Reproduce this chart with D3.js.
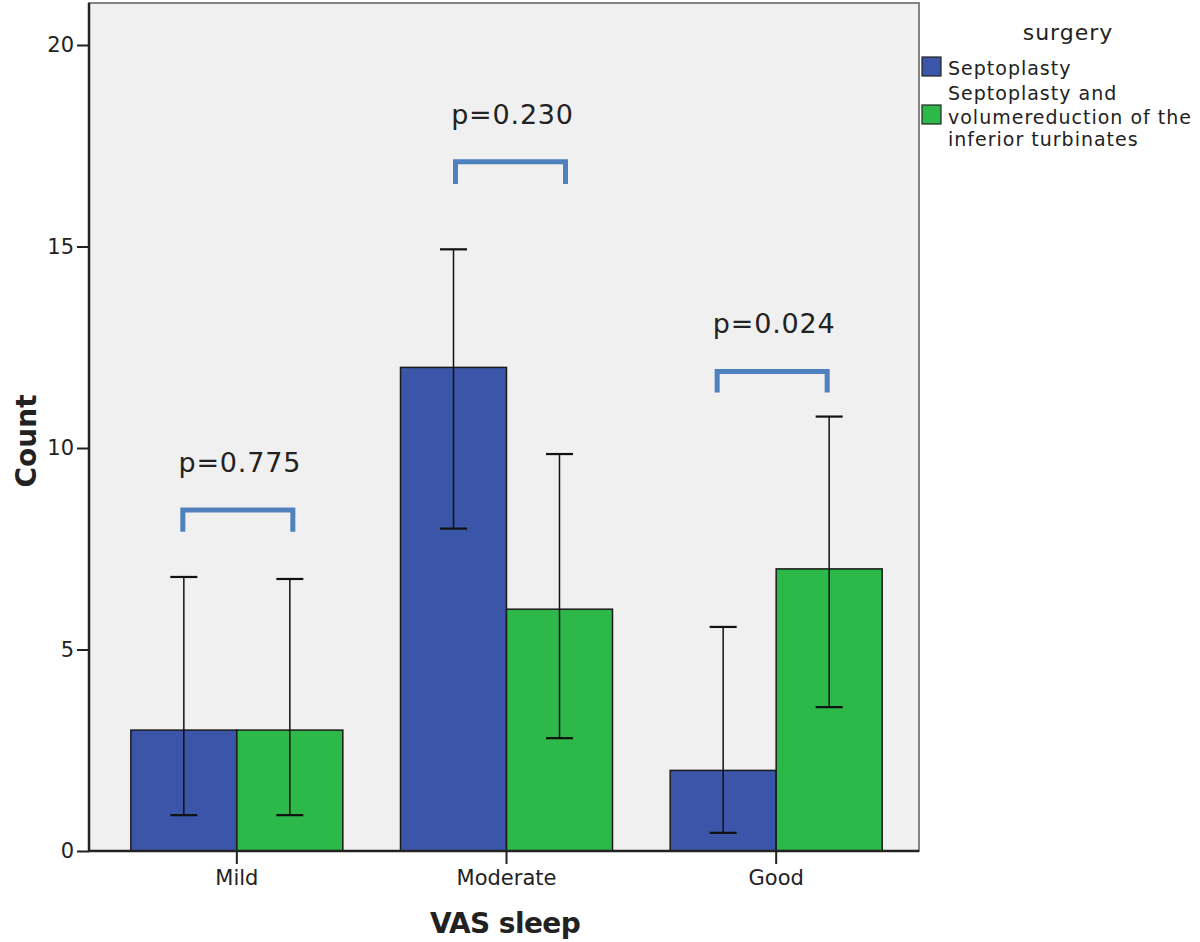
<!DOCTYPE html>
<html><head><meta charset="utf-8">
<script src="https://cdn.jsdelivr.net/npm/d3@7"></script>
<style>body{margin:0;background:#fff;} svg{display:block;font-family:"DejaVu Sans",sans-serif;}</style>
</head><body><svg id="c" width="1200" height="942"></svg>
<script>
const categories = ["Mild", "Moderate", "Good"];
const series = ["Septoplasty", "Septoplasty and volumereduction of the inferior turbinates"];
const legendLines = [["Septoplasty"], ["Septoplasty and", "volumereduction of the", "inferior turbinates"]];
const septoplasty = [3, 12, 2];
const septoTurbinates = [3, 6, 7];
const septoplastyLow = [0.89, 8.0, 0.45];
const septoplastyHigh = [6.8, 14.93, 5.56];
const septoTurbinatesLow = [0.89, 2.8, 3.57];
const septoTurbinatesHigh = [6.75, 9.85, 10.78];
const pLabels = ["p=0.775", "p=0.230", "p=0.024"];
const bracketTop = [8.46, 17.1, 11.9];
const bracketBottom = [7.92, 16.55, 11.38];
const yTicks = [0, 5, 10, 15, 20];
const colors = ["#3b56a9", "#2db84a"];

const svg = d3.select("#c");
const L = 89, R = 919, T = 3, B = 851;
const y = d3.scaleLinear().domain([0, 20]).range([B, 45]);
const x0 = d3.scaleBand().domain(categories).range([102, 911]);
const x1 = d3.scaleBand().domain(series).range([-106, 106]);
const xc = c => x0(c) + x0.bandwidth() / 2;

// plot background + frame
svg.append("rect").attr("x", L).attr("y", T).attr("width", R - L).attr("height", B - T)
  .attr("fill", "#f0f0f0").attr("stroke", "#848484").attr("stroke-width", 2);

const vals = [septoplasty, septoTurbinates];
const lows = [septoplastyLow, septoTurbinatesLow];
const highs = [septoplastyHigh, septoTurbinatesHigh];
const data = [];
categories.forEach((c, i) => series.forEach((s, j) => data.push({c, s, j, v: vals[j][i], lo: lows[j][i], hi: highs[j][i]})));

svg.append("g").selectAll("rect").data(data).join("rect")
  .attr("x", d => xc(d.c) + x1(d.s)).attr("width", x1.bandwidth())
  .attr("y", d => y(d.v)).attr("height", d => y(0) - y(d.v))
  .attr("fill", d => colors[d.j]).attr("stroke", "#1a1a1a").attr("stroke-width", 1.5);

// error bars
const eb = svg.append("g").attr("stroke", "#111");
data.forEach(d => {
  const cx = xc(d.c) + x1(d.s) + x1.bandwidth() / 2;
  eb.append("line").attr("x1", cx).attr("x2", cx).attr("y1", y(d.lo)).attr("y2", y(d.hi)).attr("stroke-width", 1.5);
  [d.lo, d.hi].forEach(v => eb.append("line").attr("x1", cx - 13.5).attr("x2", cx + 13.5)
    .attr("y1", y(v)).attr("y2", y(v)).attr("stroke-width", 2.2));
});

// axes
const yAxis = d3.axisLeft(y).tickValues(yTicks).tickSize(12).tickPadding(3);
const gy = svg.append("g").attr("transform", `translate(${L},0)`).call(yAxis);
gy.select(".domain").attr("d", `M0,${T}V${B}`).attr("stroke", "#222").attr("stroke-width", 2.5);
gy.selectAll(".tick line").attr("stroke", "#222").attr("stroke-width", 2);
gy.selectAll(".tick text").attr("font-size", 21).attr("fill", "#222").attr("font-family", "DejaVu Sans");

const xAxis = d3.axisBottom(x0).tickSize(13).tickPadding(6);
const gx = svg.append("g").attr("transform", `translate(0,${B})`).call(xAxis);
gx.select(".domain").attr("d", `M${L},0H${R}`).attr("stroke", "#222").attr("stroke-width", 2.5);
gx.selectAll(".tick line").attr("stroke", "#222").attr("stroke-width", 2);
gx.selectAll(".tick text").attr("font-size", 21).attr("fill", "#222").attr("font-family", "DejaVu Sans");

// axis titles
svg.append("text").attr("transform", "translate(36,441) rotate(-90)").attr("text-anchor", "middle")
  .attr("font-size", 28).attr("font-weight", "bold").attr("fill", "#222").text("Count");
svg.append("text").attr("x", 505).attr("y", 933).attr("text-anchor", "middle")
  .attr("font-size", 28).attr("font-weight", "bold").attr("letter-spacing", -0.6).attr("fill", "#222").text("VAS sleep");

// brackets and p values
const bracketOffsets = [1, 4, -4];
categories.forEach((c, i) => {
  const cx = xc(c) + bracketOffsets[i];
  const yt = y(bracketTop[i]), yb = y(bracketBottom[i]);
  svg.append("path").attr("d", `M${cx - 55},${yb}V${yt}H${cx + 55}V${yb}`)
    .attr("fill", "none").attr("stroke", "#4f81bd").attr("stroke-width", 5);
  svg.append("text").attr("x", cx + 2).attr("y", yt - 38).attr("text-anchor", "middle")
    .attr("font-size", 27).attr("letter-spacing", 0.8).attr("fill", "#222").text(pLabels[i]);
});

// legend
const lg = svg.append("g");
lg.append("text").attr("x", 1068).attr("y", 40).attr("text-anchor", "middle").attr("font-size", 22)
  .attr("letter-spacing", 1).attr("fill", "#222").text("surgery");
const swY = [57, 105];
const txtY = [[75], [100, 124, 146]];
series.forEach((s, j) => {
  lg.append("rect").attr("x", 922).attr("y", swY[j]).attr("width", 19).attr("height", 19)
    .attr("fill", colors[j]).attr("stroke", "#222").attr("stroke-width", 1.2);
  legendLines[j].forEach((t, k) => lg.append("text").attr("x", 948).attr("y", txtY[j][k])
    .attr("font-size", 19).attr("letter-spacing", 1).attr("fill", "#222").text(t));
});
</script></body></html>
